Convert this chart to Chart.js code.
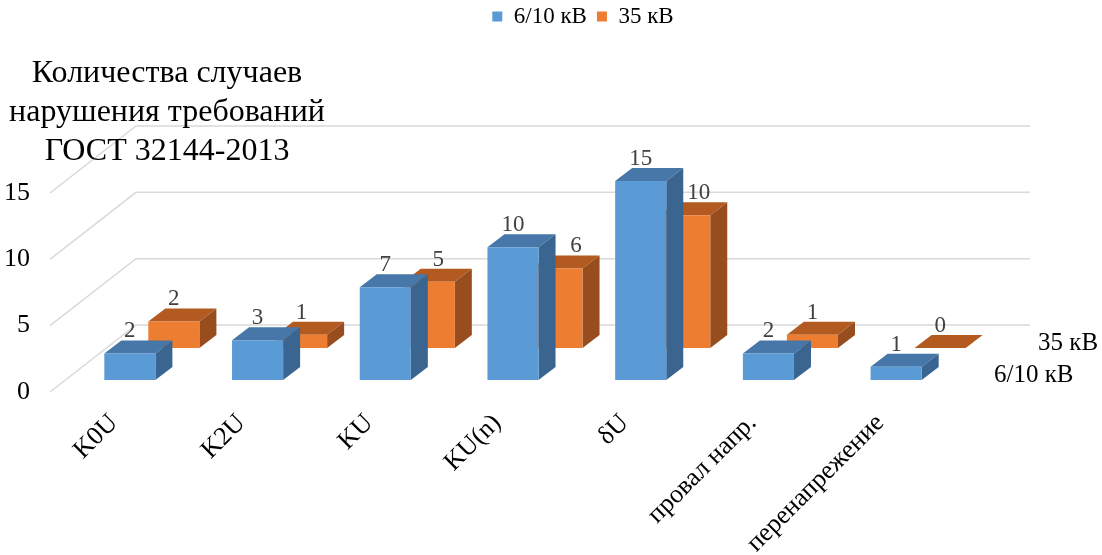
<!DOCTYPE html>
<html>
<head>
<meta charset="utf-8">
<script src="https://cdn.jsdelivr.net/npm/chart.js@4/dist/chart.umd.min.js"></script>
<style>
  html, body { margin: 0; padding: 0; background: #fff; }
</style>
</head>
<body>
<canvas id="graficoBarras3d" width="1102" height="555"></canvas>
<script>
// dados do gráfico
const categorias = ['K0U', 'K2U', 'KU', 'KU(n)', 'δU', 'провал напр.', 'перенапрежение'];
const nomesSeries = ['6/10 кВ', '35 кВ'];
const valores610 = [2, 3, 7, 10, 15, 2, 1];
const valores35 = [2, 1, 5, 6, 10, 1, 0];
const ticksY = [0, 5, 10, 15];
const tituloEixo = ['Количества случаев', 'нарушения требований', 'ГОСТ 32144-2013'];

const FONTE = "'Liberation Serif', 'Times New Roman', serif";

// geometria da perspectiva
const PROF = { x: 86, y: -67 };                     // parede do fundo
const DESLOC = [{ x: 16, y: -12 }, { x: 60, y: -44 }]; // linha de cada série
const ESPESSURA = { x: 17, y: -13 };                // profundidade da barra
const cores = [
  { frente: '#5B9BD5', topo: '#4677A8', lado: '#3A6590' },
  { frente: '#ED7D31', topo: '#B35A20', lado: '#974D1D' }
];
// rótulos da série de trás afastados para não ficarem em cima das barras da frente
const afastaRotulo = { 'KU': 9, 'KU(n)': 19, 'δU': 14 };

function poligono(ctx, pts, cor) {
  ctx.beginPath();
  ctx.moveTo(pts[0][0], pts[0][1]);
  for (let i = 1; i < pts.length; i++) ctx.lineTo(pts[i][0], pts[i][1]);
  ctx.closePath();
  ctx.fillStyle = cor;
  ctx.fill();
}

const efeito3d = {
  id: 'efeito3d',
  afterLayout(chart) {
    // legenda no topo do canvas, um pouco à direita do centro
    const lg = chart.legend;
    if (!lg) return;
    const d = 583 - (lg.left + lg.right) / 2;
    lg.left += d; lg.right += d;
    const h = lg.bottom - lg.top;
    lg.top = -5; lg.bottom = h - 5;
  },
  beforeDatasetsDraw(chart) {
    const { ctx, chartArea, scales } = chart;
    const y = scales.y;
    ctx.save();
    // grade: parede lateral e parede do fundo
    ctx.strokeStyle = '#D9D9D9';
    ctx.lineWidth = 1.5;
    ticksY.forEach(v => {
      const py = y.getPixelForValue(v);
      ctx.beginPath();
      ctx.moveTo(chartArea.left, py);
      ctx.lineTo(chartArea.left + PROF.x, py + PROF.y);
      ctx.lineTo(chartArea.right + PROF.x, py + PROF.y);
      ctx.stroke();
    });
    // título do eixo
    ctx.fillStyle = '#000';
    ctx.font = `32px ${FONTE}`;
    ctx.textAlign = 'center';
    ctx.textBaseline = 'middle';
    tituloEixo.forEach((t, i) => ctx.fillText(t, 167, 74 + i * 39));
    // rótulos das séries (eixo de profundidade)
    ctx.font = `25px ${FONTE}`;
    ctx.textAlign = 'left';
    nomesSeries.forEach((s, i) => {
      ctx.fillText(s, chartArea.right + DESLOC[i].x + 34, chartArea.bottom + DESLOC[i].y - 5);
    });
    ctx.restore();
  },
  beforeDatasetDraw(chart, args) {
    const { ctx } = chart;
    const i = args.index;
    const c = cores[i];
    ctx.save();
    ctx.translate(DESLOC[i].x, DESLOC[i].y);
    args.meta.data.forEach(bar => {
      const { x, y, base, width } = bar.getProps(['x', 'y', 'base', 'width'], true);
      const l = x - width / 2, r = x + width / 2, t = Math.min(y, base);
      poligono(ctx, [[l, t], [r, t], [r + ESPESSURA.x, t + ESPESSURA.y], [l + ESPESSURA.x, t + ESPESSURA.y]], c.topo);
      poligono(ctx, [[r, t], [r + ESPESSURA.x, t + ESPESSURA.y], [r + ESPESSURA.x, base + ESPESSURA.y], [r, base]], c.lado);
    });
  },
  afterDatasetDraw(chart) {
    chart.ctx.restore();
  },
  afterDatasetsDraw(chart) {
    const { ctx } = chart;
    ctx.save();
    ctx.font = `23px ${FONTE}`;
    ctx.fillStyle = '#404040';
    ctx.textAlign = 'center';
    ctx.textBaseline = 'alphabetic';
    chart.data.datasets.forEach((ds, i) => {
      chart.getDatasetMeta(i).data.forEach((bar, j) => {
        const { x, y, base } = bar.getProps(['x', 'y', 'base'], true);
        const t = Math.min(y, base);
        const extra = i === 1 ? (afastaRotulo[categorias[j]] || 0) : 0;
        ctx.fillText(String(ds.data[j]), x + DESLOC[i].x + extra, t + DESLOC[i].y + ESPESSURA.y - 3);
      });
    });
    ctx.restore();
  }
};

new Chart(document.getElementById('graficoBarras3d'), {
  type: 'bar',
  data: {
    labels: categorias,
    datasets: [
      { label: nomesSeries[0], data: valores610, backgroundColor: cores[0].frente },
      { label: nomesSeries[1], data: valores35, backgroundColor: cores[1].frente }
    ]
  },
  options: {
    responsive: false,
    animation: false,
    devicePixelRatio: 1,
    layout: { padding: { top: 150, right: 158, left: 0, bottom: 0 } },
    datasets: {
      bar: { grouped: false, categoryPercentage: 1, barPercentage: 0.4, borderWidth: 0, clip: false }
    },
    plugins: {
      legend: {
        position: 'top',
        labels: { boxWidth: 10, boxHeight: 10, padding: 10, color: '#000', font: { family: FONTE, size: 23 } }
      },
      tooltip: { enabled: false }
    },
    scales: {
      x: {
        grid: { display: false, drawTicks: false },
        border: { display: false },
        ticks: { autoSkip: false, maxRotation: 45, minRotation: 45, padding: 16, color: '#000', font: { family: FONTE, size: 26 } },
        afterFit(scale) { scale.height = 163; }
      },
      y: {
        min: 0,
        max: 15,
        grid: { display: false, drawTicks: false },
        border: { display: false },
        ticks: { stepSize: 5, padding: 20, color: '#000', font: { family: FONTE, size: 26 } },
        afterFit(scale) { scale.width = 50; }
      }
    }
  },
  plugins: [efeito3d]
});
</script>
</body>
</html>
